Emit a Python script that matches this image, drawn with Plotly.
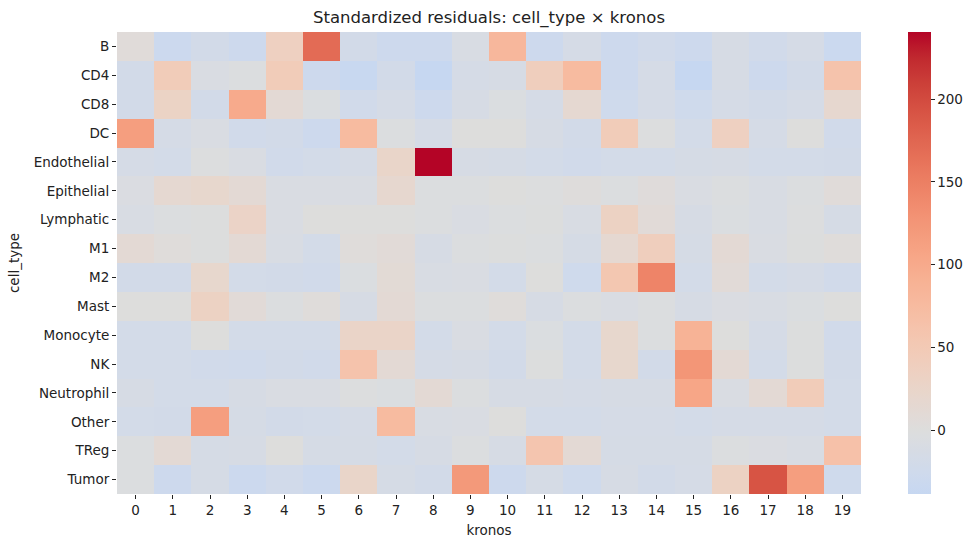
import plotly.graph_objects as go

cell_types = ["B", "CD4", "CD8", "DC", "Endothelial", "Epithelial", "Lymphatic", "M1",
              "M2", "Mast", "Monocyte", "NK", "Neutrophil", "Other", "TReg", "Tumor"]
kronos = list(range(20))

row_B = [5, -30, -20, -28, 35, 170, -20, -28, -28, -10, 80, -28, -15, -28, -22, -28, -12, -22, -15, -32]
row_CD4 = [-20, 45, -8, -3, 45, -28, -35, -20, -38.6, -15, -12, 40, 75, -28, -15, -38, -12, -28, -20, 62]
row_CD8 = [-20, 30, -20, 100, 12, -5, -22, -15, -28, -12, -5, -15, 15, -25, -15, -25, -15, -20, -15, 18]
row_DC = [115, -15, -8, -22, -20, -28, 75, -3, -15, 0, 0, -12, -20, 45, -2, -18, 35, -15, 0, -22]
row_Endothelial = [-15, -18, -2, -8, -22, -18, -15, 25, 240.6, -12, -14, -18, -22, -18, -18, -14, -12, -18, -18, -20]
row_Epithelial = [-6, 15, 20, 12, -8, -8, -8, 18, -3, -3, 0, -2, 2, -4, 4, -8, -3, -10, -3, 5]
row_Lymphatic = [-10, -3, -1, 28, -8, 1, 1, 0, -3, -8, -3, -1, -10, 32, 8, -12, -5, -10, -2, -14]
row_M1 = [12, 3, -1, 12, -10, -18, 3, 8, -12, -3, -1, -3, -14, 15, 40, -14, 12, -8, -1, 3]
row_M2 = [-20, -20, 20, -18, -19, -22, -5, 10, -10, -8, -18, 0, -25, 55, 145, -18, 8, -18, -15, -22]
row_Mast = [0, 0, 32, 8, -4, 3, -12, 12, -3, -3, 3, -12, -3, -8, -3, -12, -6, -10, -5, 0]
row_Monocyte = [-18, -18, 1, -18, -18, -18, 27, 27, -18, -8, -18, -5, -18, 20, -3, 88, 0, -15, -1, -22]
row_NK = [-18, -18, -22, -24, -20, -22, 62, 12, -15, -12, -20, -1, -18, 20, -20, 125, 12, -18, -1, -20]
row_Neutrophil = [-12, -18, -18, -12, -8, -8, -2, -5, 12, -3, -12, -12, -15, -12, -12, 105, -8, 12, 45, -18]
row_Other = [-18, -20, 115, -14, -20, -18, -15, 75, -10, -8, 0, -18, -18, -15, -15, -18, -15, -15, -15, -18]
row_TReg = [-3, 12, -14, -12, 0, -14, -14, -18, -12, -3, -12, 58, 12, -14, -14, -14, -4, -6, -10, 65]
row_Tumor = [-3, -28, -14, -30, -22, -30, 25, -14, -20, 122, -28, -14, -25, -12, -20, -15, 32, 192, 115, -25]

z = [row_B, row_CD4, row_CD8, row_DC, row_Endothelial, row_Epithelial, row_Lymphatic, row_M1,
     row_M2, row_Mast, row_Monocyte, row_NK, row_Neutrophil, row_Other, row_TReg, row_Tumor]

colorbar_ticks = [0, 50, 100, 150, 200]

# coolwarm (Moreland) table, 33 points
cw = [(59, 76, 192), (68, 90, 204), (77, 104, 215), (87, 117, 225), (98, 130, 234), (108, 142, 241),
      (119, 154, 247), (130, 165, 251), (141, 176, 254), (152, 185, 255), (163, 194, 255),
      (174, 201, 253), (184, 208, 249), (194, 213, 244), (204, 217, 238), (213, 219, 230),
      (221, 221, 221), (229, 216, 209), (236, 211, 197), (241, 204, 185), (245, 196, 173),
      (247, 187, 160), (247, 177, 148), (247, 166, 135), (244, 154, 123), (241, 141, 111),
      (236, 127, 99), (229, 112, 88), (222, 96, 77), (213, 80, 66), (203, 62, 56),
      (192, 40, 47), (180, 4, 38)]


def coolwarm(p):
    p = min(max(p, 0.0), 1.0)
    f = p * (len(cw) - 1)
    i = min(int(f), len(cw) - 2)
    t = f - i
    a, b = cw[i], cw[i + 1]
    return "rgb(%d,%d,%d)" % tuple(round(a[k] + (b[k] - a[k]) * t) for k in range(3))


flat = [v for r in z for v in r]
zmin, zmax = min(flat), max(flat)
rng = max(abs(zmin), abs(zmax))
n = 64
colorscale = []
for k in range(n + 1):
    t = k / n
    v = zmin + t * (zmax - zmin)
    colorscale.append([t, coolwarm(0.5 + v / (2 * rng))])

font = "DejaVu Sans"
fig = go.Figure(go.Heatmap(
    z=z, x=kronos, y=cell_types, zmin=zmin, zmax=zmax, colorscale=colorscale,
    colorbar=dict(thickness=23, len=1.0, lenmode="fraction", y=0.5, yanchor="middle",
                  x=1.0497, xanchor="left", xpad=10, ypad=0, outlinewidth=0, tickvals=colorbar_ticks,
                  ticks="outside", ticklen=4, tickcolor="#222", tickwidth=1,
                  tickfont=dict(family=font, size=13.5, color="#222")),
    hoverongaps=False,
))

fig.update_layout(
    width=976, height=547,
    margin=dict(l=117, r=115, t=32, b=53, autoexpand=False),
    paper_bgcolor="white", plot_bgcolor="white",
    font=dict(family=font, color="#222"),
    title=dict(text="Standardized residuals: cell_type × kronos", x=0.5, xref="paper",
               y=1 - 17 / 547, yref="container", yanchor="middle", xanchor="center",
               font=dict(family=font, size=16.5, color="#222")),
    xaxis=dict(tickvals=kronos, ticktext=[str(k) for k in kronos], ticks="outside", ticklen=4,
               tickcolor="#222", showgrid=False, zeroline=False, showline=False,
               tickfont=dict(family=font, size=13.5), title=dict(text="kronos", standoff=8,
                                                                  font=dict(family=font, size=13.5))),
    yaxis=dict(autorange="reversed", ticks="outside", ticklen=4, tickcolor="#222", showgrid=False,
               zeroline=False, showline=False, tickfont=dict(family=font, size=13.5),
               title=dict(text="cell_type", standoff=10, font=dict(family=font, size=13.5))),
)

fig.write_html("out.html")
